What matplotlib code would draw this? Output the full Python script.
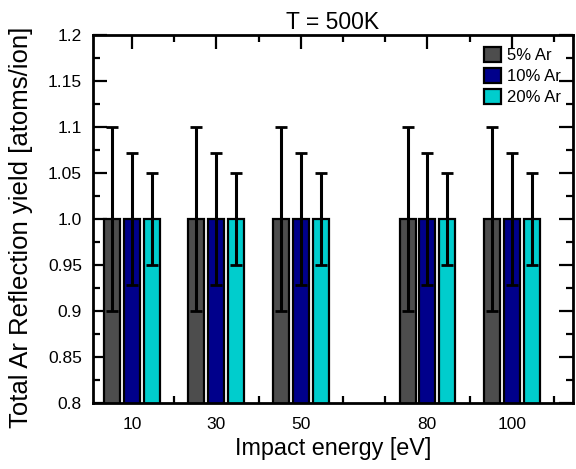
import numpy as np
import matplotlib
matplotlib.use('Agg')
import matplotlib.pyplot as plt
from matplotlib.ticker import FixedLocator, MultipleLocator

plt.rcParams['font.family'] = ['Liberation Sans', 'DejaVu Sans']

# data
energies = [10, 30, 50, 80, 100]
series = ['5% Ar', '10% Ar', '20% Ar']
yield_5 = [1.0, 1.0, 1.0, 1.0, 1.0]
yield_10 = [1.0, 1.0, 1.0, 1.0, 1.0]
yield_20 = [1.0, 1.0, 1.0, 1.0, 1.0]
err_5 = [0.1, 0.1, 0.1, 0.1, 0.1]
err_10 = [0.072, 0.072, 0.072, 0.072, 0.072]
err_20 = [0.05, 0.05, 0.05, 0.05, 0.05]
ytick_vals = [0.8, 0.85, 0.9, 0.95, 1.0, 1.05, 1.1, 1.15, 1.2]
ytick_labels = ['0.8', '0.85', '0.9', '0.95', '1.0', '1.05', '1.1', '1.15', '1.2']

colors = ['#4d4d4d', '#00008b', '#00cdcd']
offsets = [-4.7, 0.0, 4.7]
width = 3.8

fig = plt.figure(figsize=(5.76, 4.69), dpi=100)
ax = fig.add_axes([0.1615, 0.1407, 0.8333, 0.7847])

x = np.array(energies, dtype=float)
for vals, errs, col, off, lab in zip([yield_5, yield_10, yield_20],
                                     [err_5, err_10, err_20],
                                     colors, offsets, series):
    ax.bar(x + off, vals, width=width, color=col, edgecolor='black',
           linewidth=1.6, label=lab, zorder=2)
    ax.errorbar(x + off, vals, yerr=errs, fmt='none', ecolor='black',
                elinewidth=2.2, capsize=4, capthick=2, zorder=3)

ax.set_xlim(0.8, 114.5)
ax.set_ylim(0.8, 1.2)
ax.set_xticks(energies)
ax.set_xticklabels([str(e) for e in energies])
ax.xaxis.set_minor_locator(FixedLocator([20, 40, 60, 70, 90, 110]))
ax.set_yticks(ytick_vals)
ax.set_yticklabels(ytick_labels)
ax.yaxis.set_minor_locator(MultipleLocator(0.025))

ax.tick_params(which='both', direction='in', top=True, right=True, width=1.6,
               labelsize=12.5)
ax.tick_params(which='major', length=10)
ax.tick_params(axis='x', which='major', pad=10)
ax.tick_params(axis='y', which='major', pad=8)
ax.tick_params(which='minor', length=5)
for s in ax.spines.values():
    s.set_linewidth(2)

ax.set_title('T = 500K', fontsize=16.5, pad=4)
ax.set_xlabel('Impact energy [eV]', fontsize=16.8, labelpad=4)
ax.set_ylabel('Total Ar Reflection yield [atoms/ion]', fontsize=18.5)
ax.yaxis.set_label_coords(-0.125, 0.478)

leg = ax.legend(loc='upper right', frameon=False, fontsize=12,
                handlelength=1.0, handleheight=1.0, handletextpad=0.4,
                labelspacing=0.3, borderaxespad=0.3)

fig.savefig('out.png', dpi=100)
